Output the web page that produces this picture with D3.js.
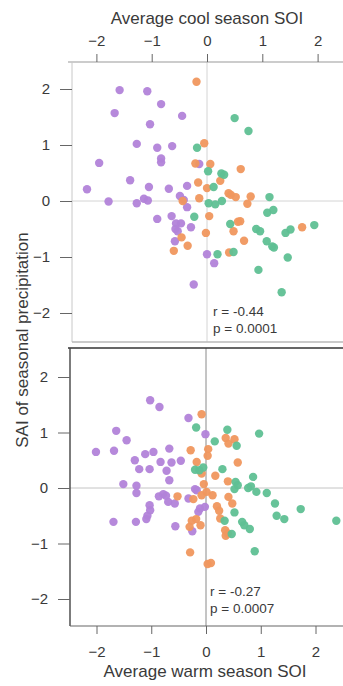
<!DOCTYPE html>
<html>
<head>
<meta charset="utf-8">
<script src="https://cdn.jsdelivr.net/npm/d3@7"></script>
<style>
  html, body { margin: 0; padding: 0; background: #fff; }
  svg { display: block; }
  text { font-family: "Liberation Sans", Arial, Helvetica, sans-serif; fill: #3a3a3a; }
</style>
</head>
<body>
<svg id="chart" width="343" height="686"></svg>
<script>
// ---------- data ----------
const tickValues = [-2, -1, 0, 1, 2];
const groups = ["purple", "orange", "green"];
const topTitle = "Average cool season SOI";
const bottomTitle = "Average warm season SOI";
const yTitle = "SAI of seasonal precipitation";
const topStats = ["r = -0.44", "p = 0.0001"];
const bottomStats = ["r = -0.27", "p = 0.0007"];

// top panel (cool season): [SOI, SAI]
const coolPurple = [
  [-1.58,1.98],[-1.08,1.96],[-0.83,1.73],[-1.67,1.57],[-0.45,1.52],[-1.03,1.37],
  [-1.27,1.02],[-0.90,0.95],[-0.63,0.98],[-0.83,0.76],[-0.83,0.69],[-1.95,0.68],
  [-1.39,0.37],[-1.05,0.25],[-0.69,0.22],[-0.36,0.27],[-2.17,0.21],[-1.78,-0.01],
  [-1.27,-0.04],[-1.14,0.04],[-1.07,0.01],[-0.49,0.09],[-0.42,0.02],[-0.36,-0.11],
  [-0.14,0.66],[-0.90,-0.32],[-0.64,-0.27],[-0.56,-0.40],[-0.47,-0.40],[-0.57,-0.50],
  [-0.53,-0.54],[-0.29,-0.47],[-0.58,-0.72],[0.00,-0.95],[0.13,-1.11],[-0.24,-1.49]
];
const coolOrange = [
  [-0.19,2.13],[-0.05,1.03],[-0.21,0.67],[0.06,0.66],[0.61,0.57],[-0.16,0.33],
  [0.00,0.23],[0.24,0.36],[0.39,0.14],[0.43,0.11],[0.52,0.07],[0.79,0.08],
  [0.73,-0.05],[-0.14,0.05],[-0.44,0.00],[0.04,-0.27],[-0.02,-0.57],[0.56,-0.37],
  [0.60,-0.36],[0.48,-0.54],[0.67,-0.71],[1.72,-0.47],[-0.46,-0.65],[-0.35,-0.80],
  [-0.60,-0.89],[0.40,-0.92]
];
const coolGreen = [
  [0.50,1.48],[0.75,1.25],[-0.18,0.95],[0.02,0.53],[0.26,0.49],[0.31,0.47],
  [0.12,0.25],[0.03,-0.04],[0.15,-0.06],[0.27,0.00],[1.13,0.07],[1.09,-0.21],
  [1.20,-0.16],[-0.23,-0.28],[0.42,-0.41],[0.89,-0.50],[0.96,-0.54],[1.08,-0.72],
  [1.18,-0.81],[1.21,-0.83],[1.42,-0.57],[1.51,-0.51],[1.94,-0.43],[1.46,-1.01],
  [0.93,-1.23],[1.35,-1.63],[0.19,-0.95],[0.48,-0.91]
];

// bottom panel (warm season): [SOI, SAI]
const warmPurple = [
  [-1.02,1.58],[-0.85,1.46],[-0.32,1.26],[-0.01,0.97],[-1.64,1.03],[-1.45,0.86],
  [-2.01,0.65],[-1.68,0.67],[-1.11,0.61],[-0.96,0.65],[-0.67,0.71],[-1.30,0.50],
  [-0.83,0.47],[-0.63,0.46],[-0.46,0.49],[-1.22,0.34],[-1.03,0.34],[-0.72,0.31],
  [-0.67,0.14],[-1.51,0.07],[-1.27,0.04],[-1.27,-0.09],[-0.86,-0.15],[-0.78,-0.11],
  [-0.73,-0.14],[-0.69,-0.25],[-0.57,-0.28],[-0.32,-0.19],[-0.17,-0.04],[-1.03,-0.31],
  [-1.02,-0.40],[-1.07,-0.50],[-1.09,-0.56],[-0.11,-0.37],[-0.02,-0.34],[-0.14,-0.43],
  [-1.69,-0.61],[-1.28,-0.61],[-0.56,-0.69],[-0.25,-0.78],[-0.20,-0.02]
];
const warmOrange = [
  [-0.08,1.33],[0.36,0.90],[0.41,0.80],[0.52,0.88],[0.04,0.70],[0.03,0.58],
  [-0.28,0.68],[-0.17,0.47],[0.58,0.46],[-0.08,0.26],[0.17,0.22],[0.40,0.12],
  [-0.04,0.07],[-0.52,-0.15],[-0.23,-0.20],[-0.08,-0.13],[0.01,-0.07],[0.12,-0.13],
  [0.41,-0.16],[0.48,-0.28],[0.20,-0.33],[0.24,-0.41],[0.26,-0.55],[-0.26,-0.59],
  [-0.18,-0.56],[-0.30,-0.70],[-0.10,-0.67],[0.35,-0.76],[0.36,-0.86],[0.40,-0.82],
  [-0.29,-1.16],[0.03,-1.37],[0.09,-1.35]
];
const warmGreen = [
  [-0.18,1.09],[0.39,1.05],[0.97,0.98],[0.16,0.84],[0.56,0.76],[-0.20,0.33],
  [-0.12,0.32],[-0.05,0.37],[0.30,0.34],[0.86,0.20],[0.54,0.11],[0.58,0.05],
  [0.52,-0.02],[0.77,0.00],[0.82,0.03],[0.92,-0.07],[1.11,-0.09],[1.26,-0.28],
  [1.73,-0.38],[1.29,-0.50],[1.43,-0.56],[2.38,-0.59],[0.52,-0.44],[0.34,-0.59],
  [0.66,-0.61],[0.70,-0.67],[0.80,-0.74],[0.47,-0.83],[0.89,-1.14]
];

// ---------- styles ----------
const colors = { purple: "#b283d9", orange: "#f0975e", green: "#5fc093" };
const svg = d3.select("#chart");

function panel(cfg) {
  const g = svg.append("g");
  const x = d3.scaleLinear().domain([-2, 2]).range(cfg.xRange);
  const y = d3.scaleLinear().domain([-2, 2]).range(cfg.yRange);

  // zero reference lines
  g.append("line").attr("x1", x(0)).attr("x2", x(0)).attr("y1", cfg.top).attr("y2", cfg.bottom)
    .attr("stroke", cfg.vzero).attr("stroke-width", 1);
  g.append("line").attr("x1", cfg.left).attr("x2", 343).attr("y1", y(0)).attr("y2", y(0))
    .attr("stroke", cfg.hzero).attr("stroke-width", 1);

  // frame
  cfg.frame.forEach(f => {
    g.append("line").attr("x1", f[0]).attr("y1", f[1]).attr("x2", f[2]).attr("y2", f[3])
      .attr("stroke", f[4]).attr("stroke-width", f[5]);
  });

  // axes
  const xa = cfg.xTop ? d3.axisTop(x) : d3.axisBottom(x);
  xa.tickValues(tickValues).tickSize(8).tickPadding(cfg.xPad).tickFormat(d3.format("d"));
  const gx = g.append("g").attr("transform", `translate(0,${cfg.xAxisY})`).call(xa);
  gx.select(".domain").remove();
  gx.selectAll(".tick line").attr("stroke", "#666");
  gx.selectAll(".tick text").style("font-size", "15px").attr("fill", "#3a3a3a");

  const ya = d3.axisLeft(y).tickValues(tickValues).tickSize(12).tickPadding(10).tickFormat(d3.format("d"));
  const gy = g.append("g").attr("transform", `translate(${cfg.left},0)`).call(ya);
  gy.select(".domain").remove();
  gy.selectAll(".tick line").attr("stroke", "#666");
  gy.selectAll(".tick text").style("font-size", "15px").attr("fill", "#3a3a3a");

  // points
  const sets = [["purple", cfg.data[0]], ["orange", cfg.data[1]], ["green", cfg.data[2]]];
  sets.forEach(([name, pts]) => {
    g.append("g").selectAll("circle").data(pts).join("circle")
      .attr("cx", d => x(d[0])).attr("cy", d => y(d[1])).attr("r", 4.2)
      .attr("fill", colors[name]).attr("opacity", 0.95);
  });

  // stats
  const t = g.append("text").attr("x", cfg.statX).attr("y", cfg.statY).style("font-size", "13.5px");
  cfg.stats.forEach((s, i) => {
    t.append("tspan").attr("x", cfg.statX).attr("dy", i === 0 ? 0 : 17).text(s);
  });
}

panel({
  xRange: [96.4, 317.6], yRange: [313, 89], top: 62, bottom: 342, left: 72,
  vzero: "#d4d4d4", hzero: "#d4d4d4",
  frame: [[68, 62, 343, 62, "#9a9a9a", 1.2], [72, 62, 72, 342, "#c8c8c8", 1], [72, 342, 343, 342, "#b8b8b8", 1.5]],
  xTop: true, xAxisY: 62, xPad: 8,
  data: [coolPurple, coolOrange, coolGreen],
  stats: topStats, statX: 213, statY: 316
});

panel({
  xRange: [96.5, 315.5], yRange: [599, 377], top: 348, bottom: 626, left: 70,
  vzero: "#8a8a8a", hzero: "#c4c4c4",
  frame: [[68, 348, 343, 348, "#333", 1.6], [70, 348, 70, 626, "#444", 1.4], [70, 626, 343, 626, "#666", 1.2]],
  xTop: false, xAxisY: 626, xPad: 12,
  data: [warmPurple, warmOrange, warmGreen],
  stats: bottomStats, statX: 210, statY: 596
});

// titles
svg.append("text").attr("x", 207).attr("y", 24).attr("text-anchor", "middle")
  .style("font-size", "17px").text(topTitle);
svg.append("text").attr("x", 205).attr("y", 677).attr("text-anchor", "middle")
  .style("font-size", "17px").text(bottomTitle);
svg.append("text").attr("transform", "translate(28,340) rotate(-90)").attr("text-anchor", "middle")
  .style("font-size", "17px").text(yTitle);
</script>
</body>
</html>
